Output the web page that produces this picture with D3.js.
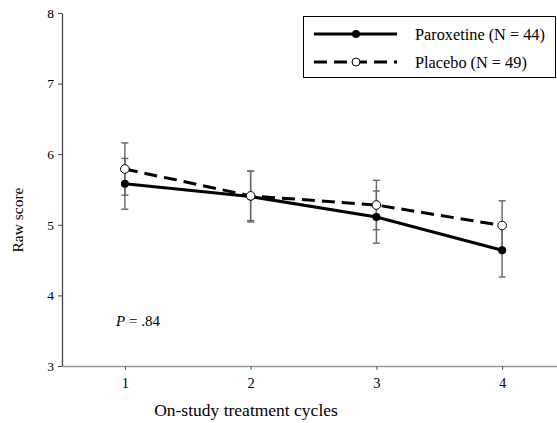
<!DOCTYPE html>
<html>
<head>
<meta charset="utf-8">
<script src="https://cdn.jsdelivr.net/npm/d3@7"></script>
<style>
  body { margin: 0; background: #fff; }
  svg text { font-family: "Liberation Serif", "Times New Roman", Times, "DejaVu Serif", serif; }
</style>
</head>
<body>
<div id="chart"></div>
<script>
// values
const cycles = [1, 2, 3, 4];
const paroxetine = [5.58, 5.40, 5.11, 4.64];
const paroxetineErr = [0.36, 0.36, 0.37, 0.38];
const placebo = [5.79, 5.41, 5.28, 4.99];
const placeboErr = [0.37, 0.35, 0.35, 0.35];
const yTicks = [3, 4, 5, 6, 7, 8];
const seriesNames = ["Paroxetine (N = 44)", "Placebo (N = 49)"];

const serif = "'Liberation Serif', 'Times New Roman', Times, serif";

let width = 557;
let height = 423;

let svg = d3.select("#chart")
  .append("svg")
    .attr("width", width)
    .attr("height", height)
    .attr("font-family", serif);

let x = d3.scaleLinear().domain([0.5, 4.5]).range([62, 565]);
let y = d3.scaleLinear().domain([3, 8]).range([366, 13]);

// axes
let yAxis = svg.append("g")
    .attr("transform", "translate(62,0)")
    .call(d3.axisLeft(y).tickValues(yTicks).tickSize(4).tickSizeOuter(0).tickFormat(d3.format("d")))
    .attr("font-family", serif);
yAxis.select(".domain").attr("stroke", "#444").attr("stroke-width", 1.3);
yAxis.selectAll(".tick line").attr("stroke", "#444");
yAxis.selectAll(".tick text")
    .attr("font-size", 13.5)
    .attr("fill", "#000")
    .attr("x", -8);

let xAxis = svg.append("g")
    .attr("transform", "translate(0,366)")
    .call(d3.axisBottom(x).tickValues(cycles).tickSize(4).tickSizeOuter(0).tickFormat(d3.format("d")))
    .attr("font-family", serif);
xAxis.select(".domain").attr("stroke", "#999").attr("stroke-width", 1.3);
xAxis.selectAll(".tick line").attr("stroke", "#555");
xAxis.selectAll(".tick text")
    .attr("font-size", 14.5)
    .attr("fill", "#000")
    .attr("y", 12);

svg.append("text")
    .attr("x", 246)
    .attr("y", 416)
    .attr("text-anchor", "middle")
    .attr("font-size", 17.5)
    .text("On-study treatment cycles");

svg.append("text")
    .attr("transform", "translate(23,220) rotate(-90)")
    .attr("text-anchor", "middle")
    .attr("font-size", 15.5)
    .text("Raw score");

// error bars
function errorBars(vals, errs) {
  let g = svg.append("g").attr("stroke", "#666").attr("stroke-width", 1.4);
  vals.forEach((v, i) => {
    let cx = x(cycles[i]);
    g.append("line").attr("x1", cx).attr("x2", cx).attr("y1", y(v - errs[i])).attr("y2", y(v + errs[i]));
    [v - errs[i], v + errs[i]].forEach(e => {
      g.append("line").attr("x1", cx - 3.5).attr("x2", cx + 3.5).attr("y1", y(e)).attr("y2", y(e));
    });
  });
}
errorBars(paroxetine, paroxetineErr);
errorBars(placebo, placeboErr);

let line = d3.line().x((d, i) => x(cycles[i])).y(d => y(d));

svg.append("path")
    .datum(paroxetine)
    .attr("d", line)
    .attr("fill", "none")
    .attr("stroke", "#000")
    .attr("stroke-width", 3);

svg.append("path")
    .datum(placebo)
    .attr("d", line)
    .attr("fill", "none")
    .attr("stroke", "#000")
    .attr("stroke-width", 3)
    .attr("stroke-dasharray", "13,7");

svg.selectAll(".parox")
  .data(paroxetine)
  .enter()
  .append("circle")
    .attr("cx", (d, i) => x(cycles[i]))
    .attr("cy", d => y(d))
    .attr("r", 4)
    .attr("fill", "#000");

svg.selectAll(".plac")
  .data(placebo)
  .enter()
  .append("circle")
    .attr("cx", (d, i) => x(cycles[i]))
    .attr("cy", d => y(d))
    .attr("r", 4.3)
    .attr("fill", "#fff")
    .attr("stroke", "#000")
    .attr("stroke-width", 1);

// P value
let pText = svg.append("text")
    .attr("x", 116)
    .attr("y", 326)
    .attr("font-size", 15);
pText.append("tspan").attr("font-style", "italic").text("P");
pText.append("tspan").text(" = .84");

// legend
let legend = svg.append("g");
legend.append("rect")
    .attr("x", 303.5)
    .attr("y", 16.5)
    .attr("width", 252)
    .attr("height", 61)
    .attr("fill", "#fff")
    .attr("stroke", "#000")
    .attr("stroke-width", 1);

legend.append("line")
    .attr("x1", 314).attr("x2", 397).attr("y1", 34).attr("y2", 34)
    .attr("stroke", "#000").attr("stroke-width", 3);
legend.append("circle").attr("cx", 356).attr("cy", 34).attr("r", 4).attr("fill", "#000");

legend.append("line")
    .attr("x1", 314).attr("x2", 397).attr("y1", 62).attr("y2", 62)
    .attr("stroke", "#000").attr("stroke-width", 3)
    .attr("stroke-dasharray", "13,7");
legend.append("circle").attr("cx", 356).attr("cy", 62).attr("r", 4)
    .attr("fill", "#fff").attr("stroke", "#000").attr("stroke-width", 1);

legend.selectAll(".lab")
  .data(seriesNames)
  .enter()
  .append("text")
    .attr("x", 415)
    .attr("y", (d, i) => 39.5 + i * 28)
    .attr("font-size", 16.3)
    .text(d => d);
</script>
</body>
</html>
